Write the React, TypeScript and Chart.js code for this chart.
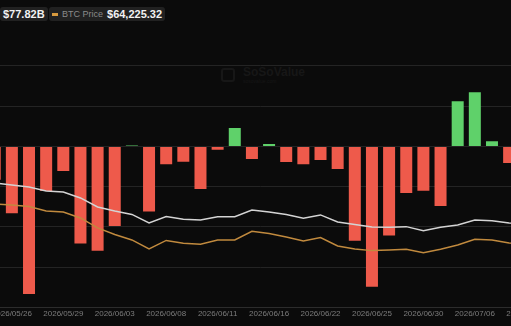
import React, { useEffect, useRef } from "react";
import { Chart, registerables } from "chart.js";

Chart.register(...registerables);

// Trading days (index -2 .. 31); labels shown every 3rd day starting at 2026/05/26
const dates: string[] = [
  "2026/05/21", "2026/05/22",
  "2026/05/26", "2026/05/27", "2026/05/28", "2026/05/29", "2026/06/01", "2026/06/02",
  "2026/06/03", "2026/06/04", "2026/06/05", "2026/06/08", "2026/06/09", "2026/06/10",
  "2026/06/11", "2026/06/12", "2026/06/15", "2026/06/16", "2026/06/17", "2026/06/18",
  "2026/06/22", "2026/06/23", "2026/06/24", "2026/06/25", "2026/06/26", "2026/06/29",
  "2026/06/30", "2026/07/01", "2026/07/02", "2026/07/06", "2026/07/07", "2026/07/08",
  "2026/07/09", "2026/07/10",
];

// Daily net inflow ($M)
const netInflow: (number | null)[] = [
  null, -166,
  -332, -733, -221, -122, -483, -519,
  -396, 5, -324, -88, -76, -211,
  -17, 92, -62, 12, -78, -88,
  -67, -112, -469, -697, -443, -231,
  -220, -296, 225, 269, 26, -82,
  null, null,
];

// Total net assets ($B)
const totalNetAssets: (number | null)[] = [
  null, 87.93,
  87.43, 86.93, 85.94, 85.69, 84.2, 81.96,
  80.97, 80.1, 77.99, 79.6, 78.91, 78.73,
  79.55, 79.55, 81.22, 80.72, 80.1, 79.16,
  79.98, 78.24, 77.62, 77.0, 76.92, 77.07,
  76.08, 76.92, 77.49, 78.73, 78.56, 77.99,
  77.85, null,
];

// BTC price ($)
const btcPrice: (number | null)[] = [
  null, 73709,
  73461, 73088, 71971, 71722, 70232, 67748,
  66133, 64767, 62531, 64643, 63947, 63699,
  64767, 64767, 66928, 66382, 65512, 64519,
  65338, 63277, 62531, 62109, 62283, 62457,
  61612, 62457, 63525, 64941, 64767, 64022,
  63898, null,
];

const yTicks = { min: -800, max: 600, step: 200 };

const RED = "#ee5a4b";
const GREEN = "#5fd16a";
const FONT = "'Liberation Sans', Arial, sans-serif";

export default function App() {
  const ref = useRef<HTMLCanvasElement | null>(null);

  useEffect(() => {
    if (!ref.current) return;
    const chart = new Chart(ref.current, {
      type: "bar",
      data: {
        labels: dates,
        datasets: [
          {
            type: "line",
            label: "Total Net Assets",
            data: totalNetAssets,
            yAxisID: "y1",
            borderColor: "#d4d4d4",
            borderWidth: 1.5,
            pointRadius: 0,
            tension: 0,
            order: 0,
          },
          {
            type: "line",
            label: "BTC Price",
            data: btcPrice,
            yAxisID: "y2",
            borderColor: "#c18a3e",
            borderWidth: 1.5,
            pointRadius: 0,
            tension: 0,
            order: 0,
          },
          {
            type: "bar",
            label: "Daily Net Inflow",
            data: netInflow,
            yAxisID: "y",
            backgroundColor: netInflow.map((v) => ((v ?? 0) >= 0 ? GREEN : RED)),
            categoryPercentage: 1,
            barPercentage: 0.7,
            order: 1,
          },
        ],
      },
      options: {
        responsive: false,
        animation: false,
        layout: { padding: { top: 25.7, bottom: 5, left: 0, right: 0 } },
        plugins: { legend: { display: false }, tooltip: { enabled: false } },
        scales: {
          x: {
            grid: { display: false, drawTicks: false },
            border: { display: true, color: "#2c2c2c" },
            ticks: {
              autoSkip: false,
              maxRotation: 0,
              minRotation: 0,
              padding: 2,
              color: "#7c7c7c",
              font: { size: 8, family: FONT },
              callback: (_v: any, idx: number) => {
                const i = idx - 2;
                return i >= 0 && i % 3 === 0 ? dates[idx] : "";
              },
            },
          },
          y: {
            min: yTicks.min,
            max: yTicks.max,
            ticks: { display: false, stepSize: yTicks.step },
            grid: {
              drawTicks: false,
              color: (c: any) => (c.tick && c.tick.value === yTicks.max ? "rgba(0,0,0,0)" : "#242424"),
            },
            border: { display: false },
          },
          y1: { display: false, min: 57, max: 127 },
          y2: { display: false, min: 48000, max: 118000 },
        },
      },
    });
    return () => chart.destroy();
  }, []);

  const box: React.CSSProperties = {
    position: "absolute",
    top: 7,
    height: 14,
    lineHeight: "14px",
    background: "#212121",
    borderRadius: 3,
    padding: "0 3px",
    display: "flex",
    alignItems: "center",
    whiteSpace: "nowrap",
  };

  return (
    <div
      style={{
        position: "fixed",
        left: 0,
        top: 0,
        width: 511,
        height: 326,
        background: "#0b0b0b",
        overflow: "hidden",
        fontFamily: FONT,
      }}
    >
      <div style={{ position: "absolute", left: 221, top: 66, display: "flex", alignItems: "center", color: "#171717" }}>
        <div style={{ width: 10, height: 10, borderRadius: 3, border: "2px solid #171717", marginRight: 8 }} />
        <div>
          <div style={{ fontSize: 12, fontWeight: 700, lineHeight: "12px" }}>SoSoValue</div>
          <div style={{ fontSize: 5, lineHeight: "6px" }}>sosovalue.com</div>
        </div>
      </div>
      <canvas ref={ref} width={583} height={326} style={{ position: "absolute", left: -31, top: 0 }} />
      <div style={{ ...box, left: 0 }}>
        <span style={{ color: "#f2f2f2", fontWeight: 700, fontSize: 11 }}>$77.82B</span>
      </div>
      <div style={{ ...box, left: 49 }}>
        <span style={{ display: "inline-block", width: 6, height: 3, background: "#d89a3e", marginRight: 4 }} />
        <span style={{ color: "#8a8a8a", fontSize: 9, marginRight: 4 }}>BTC Price</span>
        <span style={{ color: "#f2f2f2", fontWeight: 700, fontSize: 11 }}>$64,225.32</span>
      </div>
    </div>
  );
}
